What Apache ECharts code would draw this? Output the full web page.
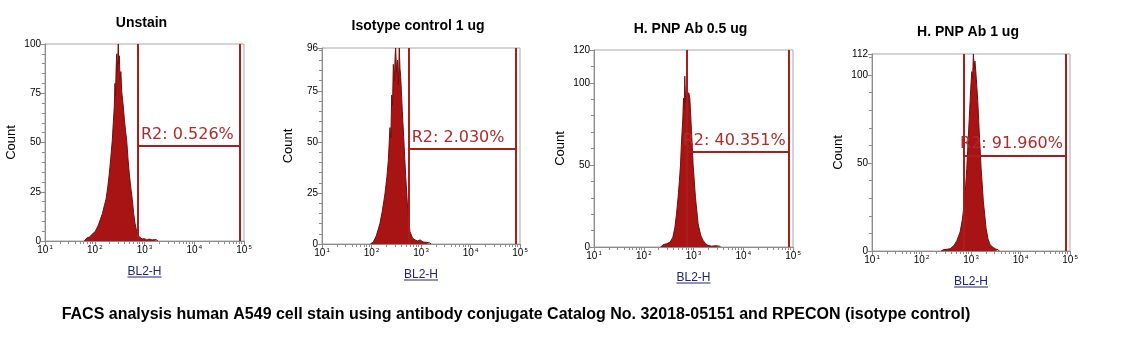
<!DOCTYPE html>
<html>
<head>
<meta charset="utf-8">
<script src="https://cdn.jsdelivr.net/npm/echarts@6.0.0/dist/echarts.min.js"></script>
<style>
    html, body { margin: 0; padding: 0; background: #fff; }
    #chart { width: 1139px; height: 354px; }
</style>
</head>
<body>
<div id="chart"></div>
<script>
// panel texts
const panelTitles = ['Unstain', 'Isotype control 1 ug', 'H. PNP Ab 0.5 ug', 'H. PNP Ab 1 ug']
const gateLabels = ['R2: 0.526%', 'R2: 2.030%', 'R2: 40.351%', 'R2: 91.960%']
const caption = 'FACS analysis human A549 cell stain using antibody conjugate Catalog No. 32018-05151 and RPECON (isotype control)'

// y scale of each panel
const yMax = [100, 96, 120, 112]
const yStep = [25, 25, 50, 50]

// R2 gate (BL2-H from / to, height in counts)
const gateLow = [740, 565, 724, 725]
const gateHigh = [83000, 83000, 81800, 83000]
const gateY = [48.2, 46.7, 57.9, 54.4]

// histograms
const unstainBL2 = [62, 69, 78, 90, 103, 118, 130, 143, 156, 168, 182, 196, 210, 225, 236, 247, 255, 262, 268, 276, 283, 290, 297, 304, 312, 322, 335, 348, 362, 375, 393, 415, 439, 465, 495, 530, 569, 605, 644, 695, 750, 820, 900, 1000, 1120, 1260, 1420, 1600, 1780, 1850]
const unstainCount = [0, 1.5, 2, 3.5, 5, 8, 11, 14, 18, 21, 27, 34, 42, 51, 60, 68, 80, 74, 86, 95, 86, 92, 100, 90, 94, 82, 86, 76, 72, 68, 62, 56, 51, 42, 34, 27, 21, 14, 9, 5, 2.5, 1.5, 1, 1.2, 0.5, 1, 0.5, 0.8, 0.5, 0]

const isotypeBL2 = [95, 109, 125, 148, 165, 187, 205, 219, 236, 246, 256, 266, 276, 290, 300, 308, 320, 335, 350, 364, 376, 389, 419, 454, 491, 539, 599, 670, 756, 850, 960, 1096, 1300, 1514, 1600]
const isotypeCount = [0, 1, 4, 10, 16, 24.5, 33, 41, 57, 52, 73, 68, 88, 80, 92, 96, 84, 90, 78, 96, 86, 82, 65, 49, 33, 17, 6, 3, 2, 1.5, 2, 1, 0.8, 0.5, 0]

const ab05BL2 = [220, 244, 290, 340, 385, 421, 455, 490, 520, 548, 570, 590, 610, 630, 650, 668, 690, 720, 760, 800, 843, 912, 982, 1096, 1239, 1400, 1560, 1750, 1940, 2300, 2800, 3380, 3500]
const ab05Count = [0, 1.4, 2, 3, 6, 11.6, 20, 30, 40, 50, 62, 70.5, 78, 90.7, 84, 104, 88, 98, 86, 94, 90.7, 70.5, 50, 30, 14, 7, 4, 2, 1, 0.5, 0.8, 0.5, 0]

const ab1BL2 = [250, 280, 330, 379, 450, 520, 603, 670, 736, 780, 823, 887, 959, 1000, 1038, 1080, 1117, 1160, 1200, 1250, 1371, 1476, 1600, 1778, 2015, 2200, 2427, 2800, 3200, 3516, 3700]
const ab1Count = [0, 0.8, 1, 1.3, 3, 6, 10.8, 18, 28, 37, 47, 66, 85, 95, 102, 98, 112, 104, 108, 102, 85, 66, 47, 28, 13, 7, 3.6, 2, 1, 0.8, 0]

const histX = [unstainBL2, isotypeBL2, ab05BL2, ab1BL2]
const histY = [unstainCount, isotypeCount, ab05Count, ab1Count]

// layout of the four plots (px)
const boxes = [
    {left: 45, top: 44, width: 199, height: 197},
    {left: 322, top: 48, width: 198, height: 196},
    {left: 594, top: 50, width: 199, height: 197},
    {left: 872, top: 54, width: 198, height: 197}
]
const titleTop = [16, 19, 22, 25]
const labelPos = ['insideStartTop', 'insideStartTop', 'insideEndTop', 'insideEndTop']

const gray = '#8c8c8c'
const gateColor = '#a81e1e'

// minor ticks at 2..9 of each decade, in log10 units for the helper axis
let minorLog = []
for (let d = 1; d < 5; d++) {
    for (let k = 2; k <= 9; k++) {
        minorLog.push(Math.log10(k * Math.pow(10, d)))
    }
}

let chart = echarts.init(document.getElementById('chart'))

let grids = [], xAxes = [], yAxes = [], series = [], titles = [], graphics = []
for (let i = 0; i < 4; i++) {
    let b = boxes[i]
    grids.push({
        left: b.left, top: b.top, width: b.width, height: b.height,
        show: true, borderColor: '#a8a8a8', borderWidth: 1, backgroundColor: 'transparent'
    })
    titles.push({
        text: panelTitles[i],
        left: b.left + b.width / 2 - 3,
        top: titleTop[i],
        textAlign: 'center',
        padding: 0,
        textStyle: {fontSize: 14, fontWeight: 'bold', fontFamily: 'Liberation Sans', color: '#000'}
    })
    xAxes.push({
        gridIndex: i,
        type: 'log',
        logBase: 10,
        min: 10,
        max: 100000,
        axisLine: {show: true, lineStyle: {color: gray}},
        axisTick: {show: true, length: 4, lineStyle: {color: gray}},
        splitLine: {show: false},
        axisLabel: {
            margin: 3,
            formatter: function (v) {
                return '{b|10}{s|' + Math.round(Math.log10(v)) + '}'
            },
            rich: {
                b: {fontSize: 10, fontFamily: 'Liberation Sans', color: '#000', lineHeight: 12},
                s: {fontSize: 6, fontFamily: 'Liberation Sans', color: '#000', verticalAlign: 'top', lineHeight: 12, padding: [0, 0, 0, 1]}
            }
        },
        name: 'BL2-H',
        nameLocation: 'middle',
        nameGap: 25,
        nameTextStyle: {fontSize: 12, fontFamily: 'Liberation Sans', color: '#22227a', verticalAlign: 'top'}
    })
    // helper axis only for the small log ticks
    xAxes.push({
        gridIndex: i,
        type: 'value',
        min: 1,
        max: 5,
        position: 'bottom',
        axisLine: {show: false},
        axisLabel: {show: false},
        splitLine: {show: false},
        axisTick: {show: true, length: 3, customValues: minorLog, lineStyle: {color: gray}}
    })
    yAxes.push({
        gridIndex: i,
        type: 'value',
        min: 0,
        max: yMax[i],
        interval: yStep[i],
        axisLine: {show: true, lineStyle: {color: gray}},
        axisTick: {show: true, length: 4, lineStyle: {color: gray}},
        minorTick: {show: true, splitNumber: 5, length: 3, lineStyle: {color: gray}},
        splitLine: {show: false},
        axisLabel: {fontSize: 10, fontFamily: 'Liberation Sans', color: '#000', margin: 4},
        name: 'Count',
        nameLocation: 'middle',
        nameGap: 27,
        nameRotate: 90,
        nameTextStyle: {fontSize: 13, fontFamily: 'Liberation Sans', color: '#000'}
    })

    let pts = []
    for (let j = 0; j < histX[i].length; j++) {
        pts.push([histX[i][j], histY[i][j]])
    }
    series.push({
        type: 'line',
        xAxisIndex: i * 2,
        yAxisIndex: i,
        data: pts,
        showSymbol: false,
        smooth: false,
        lineStyle: {color: '#7a0b0b', width: 1},
        areaStyle: {color: '#a81414', opacity: 1},
        z: 2,
        markLine: {
            silent: true,
            symbol: 'none',
            z: 3,
            lineStyle: {color: gateColor, width: 2, type: 'solid'},
            label: {show: false},
            data: [
                {xAxis: gateLow[i]},
                {xAxis: gateHigh[i]},
                [
                    {
                        coord: [gateLow[i], gateY[i]],
                        label: {
                            show: true,
                            formatter: gateLabels[i],
                            position: labelPos[i],
                            distance: 3,
                            color: '#b02a2a',
                            fontSize: 16,
                            fontFamily: 'DejaVu Sans'
                        }
                    },
                    {coord: [gateHigh[i], gateY[i]]}
                ]
            ]
        }
    })

    // underline of the axis name
    let cx = b.left + b.width / 2
    let uy = b.top + b.height + 36
    graphics.push({
        type: 'line',
        shape: {x1: cx - 17, y1: uy, x2: cx + 17, y2: uy},
        style: {stroke: '#22227a', lineWidth: 1}
    })
}

graphics.push({
    type: 'text',
    x: 516,
    y: 315,
    style: {
        text: caption,
        fill: '#000',
        font: 'bold 16px "Liberation Sans", sans-serif',
        align: 'center',
        verticalAlign: 'middle'
    }
})

chart.setOption({
    animation: false,
    backgroundColor: '#fff',
    title: titles,
    grid: grids,
    xAxis: xAxes,
    yAxis: yAxes,
    series: series,
    graphic: graphics
})
</script>
</body>
</html>
